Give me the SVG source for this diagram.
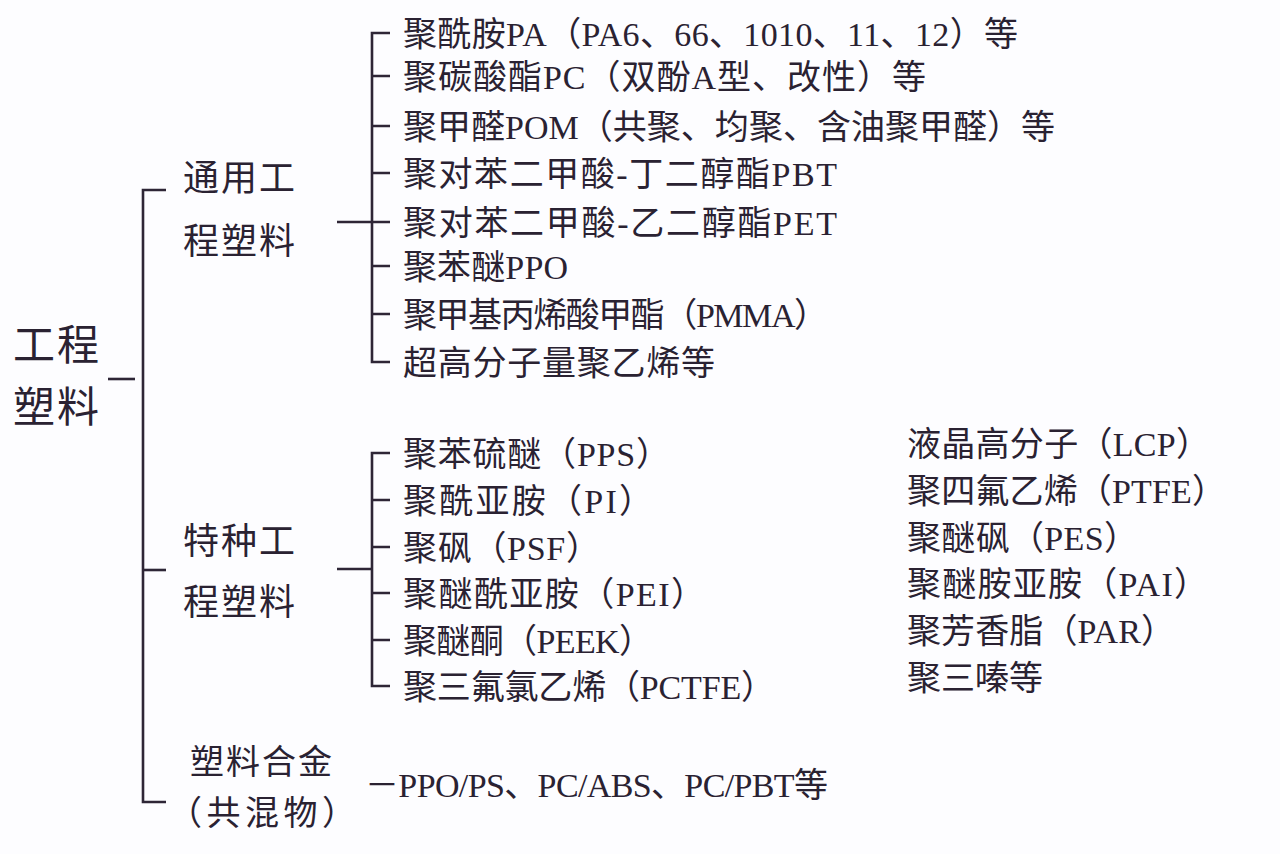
<svg xmlns="http://www.w3.org/2000/svg" width="1280" height="854" viewBox="0 0 1280 854">
<style>
text{font-family:"Liberation Serif","Noto Sans CJK SC",serif;fill:#2a2232}
.it{font-size:34px}
.cat{font-size:36px;letter-spacing:2px;font-family:"Noto Sans CJK SC",sans-serif}
.root{font-size:42px;letter-spacing:2px;font-family:"Noto Sans CJK SC",sans-serif}
.ln{stroke:#2e2636;stroke-width:2.6;fill:none}
</style>
<rect width="1280" height="854" fill="#fdfdff"/>
<g id="connectors" class="ln">
<path d="M108 379H135"/>
<path d="M166 190H143V802H166"/>
<path d="M143 570H166"/>
<path d="M390 33H372V362H390"/>
<path d="M372 76H390M372 126H390M372 173H390M372 222H390M372 266H390M372 314H390"/>
<path d="M337 222H372"/>
<path d="M390 453H372V686H390"/>
<path d="M372 500H390M372 547H390M372 593H390M372 640H390"/>
<path d="M337 569H372"/>
</g>
<g id="root"><text class="root" x="13" y="360">工程</text><text class="root" x="13" y="422">塑料</text></g>
<g id="general"><text class="cat" x="183" y="191">通用工</text><text class="cat" x="183" y="254">程塑料</text></g>
<g id="special"><text class="cat" x="183" y="554">特种工</text><text class="cat" x="183" y="615">程塑料</text></g>
<g id="alloy"><text class="cat" x="190" y="774" style="font-size:34px">塑料合金</text><text class="it" x="168" y="825" textLength="188" lengthAdjust="spacing">（共混物）</text></g>
<g id="general-items">
<text class="it" x="403" y="46" textLength="615" lengthAdjust="spacing">聚酰胺PA（PA6、66、1010、11、12）等</text>
<text class="it" x="403" y="89" textLength="523" lengthAdjust="spacing">聚碳酸酯PC（双酚A型、改性）等</text>
<text class="it" x="403" y="139" textLength="652" lengthAdjust="spacing">聚甲醛POM（共聚、均聚、含油聚甲醛）等</text>
<text class="it" x="403" y="186" textLength="434" lengthAdjust="spacing">聚对苯二甲酸-丁二醇酯PBT</text>
<text class="it" x="403" y="235" textLength="434" lengthAdjust="spacing">聚对苯二甲酸-乙二醇酯PET</text>
<text class="it" x="403" y="279" textLength="165" lengthAdjust="spacing">聚苯醚PPO</text>
<text class="it" x="403" y="327" textLength="425" lengthAdjust="spacing">聚甲基丙烯酸甲酯（PMMA）</text>
<text class="it" x="403" y="375" textLength="312" lengthAdjust="spacing">超高分子量聚乙烯等</text>
</g>
<g id="special-items">
<text class="it" x="403" y="466" textLength="267" lengthAdjust="spacing">聚苯硫醚（PPS）</text>
<text class="it" x="403" y="513" textLength="250" lengthAdjust="spacing">聚酰亚胺（PI）</text>
<text class="it" x="403" y="560" textLength="197" lengthAdjust="spacing">聚砜（PSF）</text>
<text class="it" x="403" y="606" textLength="302" lengthAdjust="spacing">聚醚酰亚胺（PEI）</text>
<text class="it" x="403" y="653" textLength="250" lengthAdjust="spacing">聚醚酮（PEEK）</text>
<text class="it" x="403" y="699" textLength="372" lengthAdjust="spacing">聚三氟氯乙烯（PCTFE）</text>
</g>
<g id="special-items-2">
<text class="it" x="907" y="456" textLength="303" lengthAdjust="spacing">液晶高分子（LCP）</text>
<text class="it" x="907" y="503" textLength="319" lengthAdjust="spacing">聚四氟乙烯（PTFE）</text>
<text class="it" x="907" y="550" textLength="231" lengthAdjust="spacing">聚醚砜（PES）</text>
<text class="it" x="907" y="596" textLength="301" lengthAdjust="spacing">聚醚胺亚胺（PAI）</text>
<text class="it" x="907" y="643" textLength="268" lengthAdjust="spacing">聚芳香脂（PAR）</text>
<text class="it" x="907" y="690">聚三嗪等</text>
</g>
<g id="alloy-items">
<text class="it" x="365" y="797" textLength="463" lengthAdjust="spacing">－PPO/PS、PC/ABS、PC/PBT等</text>
</g>
</svg>
